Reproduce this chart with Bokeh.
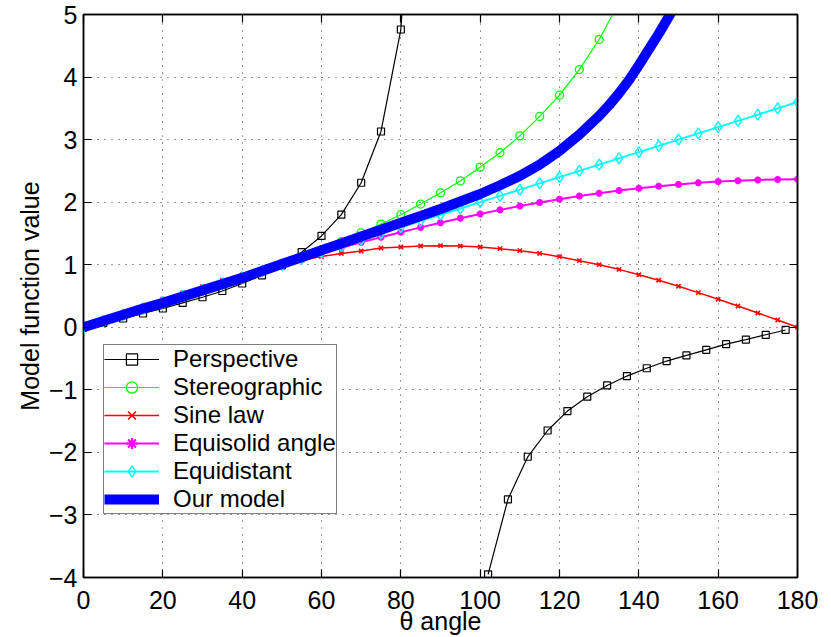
from bokeh.plotting import figure
from bokeh.models import Range1d, LinearAxis, Legend, LegendItem, FixedTicker
from bokeh.embed import file_html
from bokeh.resources import INLINE

# ---------------- data ----------------
x_ticks = [0, 20, 40, 60, 80, 100, 120, 140, 160, 180]
y_ticks = [-4, -3, -2, -1, 0, 1, 2, 3, 4, 5]

theta = [0, 5, 10, 15, 20, 25, 30, 35, 40, 45, 50, 55, 60, 65, 70, 75, 80, 85, 90,
         95, 100, 105, 110, 115, 120, 125, 130, 135, 140, 145, 150, 155, 160, 165,
         170, 175, 180]

theta_persp_a = [0, 5, 10, 15, 20, 25, 30, 35, 40, 45, 50, 55, 60, 65, 70, 75, 80, 85]
persp_a = [0.0, 0.07, 0.14, 0.22, 0.30, 0.39, 0.48, 0.58, 0.70, 0.83, 0.99, 1.20,
           1.46, 1.80, 2.31, 3.13, 4.76, 9.5]
theta_persp_b = [102, 107, 112, 117, 122, 127, 132, 137, 142, 147, 152, 157, 162,
                 167, 172, 177]
persp_b = [-3.95, -2.75, -2.07, -1.65, -1.34, -1.11, -0.93, -0.78, -0.655, -0.54,
           -0.45, -0.36, -0.27, -0.197, -0.12, -0.043]

theta_stereo = [0, 5, 10, 15, 20, 25, 30, 35, 40, 45, 50, 55, 60, 65, 70, 75, 80, 85,
                90, 95, 100, 105, 110, 115, 120, 125, 130, 135]
stereo = [0.0, 0.09, 0.19, 0.28, 0.38, 0.48, 0.58, 0.68, 0.78, 0.89, 1.00, 1.12, 1.24,
          1.37, 1.51, 1.65, 1.80, 1.97, 2.15, 2.34, 2.56, 2.79, 3.06, 3.37, 3.71, 4.12,
          4.60, 5.19]

sine = [0.0, 0.11, 0.23, 0.34, 0.45, 0.55, 0.65, 0.75, 0.84, 0.92, 1.00, 1.07, 1.13,
        1.18, 1.22, 1.267, 1.283, 1.299, 1.305, 1.299, 1.283, 1.257, 1.225, 1.182,
        1.129, 1.065, 1.001, 0.926, 0.841, 0.751, 0.655, 0.554, 0.447, 0.34, 0.229,
        0.117, 0.0]

equisolid = [0.0, 0.103, 0.206, 0.309, 0.411, 0.512, 0.612, 0.711, 0.809, 0.905,
             0.999, 1.092, 1.183, 1.271, 1.357, 1.44, 1.52, 1.597, 1.672, 1.744, 1.812,
             1.877, 1.937, 1.994, 2.048, 2.097, 2.143, 2.185, 2.222, 2.255, 2.284,
             2.309, 2.329, 2.344, 2.356, 2.363, 2.365]

equidistant = [0.0, 0.1, 0.2, 0.3, 0.4, 0.5, 0.6, 0.7, 0.8, 0.9, 1.0, 1.1, 1.2, 1.3,
               1.4, 1.5, 1.6, 1.7, 1.8, 1.9, 2.0, 2.1, 2.2, 2.3, 2.4, 2.5, 2.6, 2.7,
               2.8, 2.9, 3.0, 3.1, 3.2, 3.3, 3.4, 3.5, 3.6]

theta_model = [0, 5, 10, 15, 20, 25, 30, 35, 40, 45, 50, 55, 60, 65, 70, 75, 80, 85,
               90, 95, 100, 105, 110, 115, 120, 125, 130, 132.5, 135, 137.5, 140,
               142.5, 145, 147.5, 150]
model = [0.0, 0.10, 0.20, 0.30, 0.39, 0.49, 0.59, 0.69, 0.79, 0.90, 1.01, 1.12, 1.23,
         1.34, 1.45, 1.56, 1.67, 1.78, 1.89, 2.01, 2.13, 2.27, 2.42, 2.60, 2.82, 3.08,
         3.38, 3.55, 3.74, 3.95, 4.19, 4.44, 4.69, 4.96, 5.25]

labels = ["Perspective", "Stereographic", "Sine law", "Equisolid angle",
          "Equidistant", "Our model"]
x_title = "\u03b8 angle"
y_title = "Model function value"

# ---------------- figure ----------------
FONT = "Liberation Sans"

p = figure(width=831, height=637, output_backend="svg", toolbar_location=None,
           x_range=Range1d(0, 180), y_range=Range1d(-4, 5),
           min_border_left=83, min_border_right=34, min_border_top=14,
           min_border_bottom=60)
p.background_fill_color = "white"
p.border_fill_color = "white"
p.outline_line_color = "black"
p.outline_line_width = 1.5

# lines + markers
r_pa = p.line(theta_persp_a, persp_a, line_color="black", line_width=1.2)
s_pa = p.scatter(theta_persp_a, persp_a, marker="square", size=7, fill_color=None,
                 line_color="black", line_width=1.2)
r_pb = p.line(theta_persp_b, persp_b, line_color="black", line_width=1.2)
s_pb = p.scatter(theta_persp_b, persp_b, marker="square", size=7, fill_color=None,
                 line_color="black", line_width=1.2)

r_st = p.line(theta_stereo, stereo, line_color="#00ff00", line_width=1.2)
s_st = p.scatter(theta_stereo, stereo, marker="circle", size=8, fill_color=None,
                 line_color="#00ff00", line_width=1.3)

r_si = p.line(theta, sine, line_color="#ff0000", line_width=1.5)
s_si = p.scatter(theta, sine, marker="x", size=6, line_color="#ff0000", line_width=1.6)

r_es = p.line(theta, equisolid, line_color="#ff00ff", line_width=2)
s_es = p.scatter(theta, equisolid, marker="asterisk", size=7, line_color="#ff00ff",
                 line_width=2.2)

r_ed = p.line(theta, equidistant, line_color="#00ffff", line_width=2)
s_ed = p.scatter(theta, equidistant, marker="diamond", size=11, fill_color=None,
                 line_color="#00ffff", line_width=1.5)

r_m = p.line(theta_model, model, line_color="#0000ff", line_width=10,
             line_join="round")

# axes styling
for ax in (p.xaxis[0], p.yaxis[0]):
    ax.major_tick_in = 8
    ax.major_tick_out = 0
    ax.minor_tick_line_color = None
    ax.axis_line_color = "black"
    ax.axis_line_width = 1.5
    ax.major_tick_line_color = "black"
    ax.major_tick_line_width = 1.2
    ax.major_label_text_font = FONT
    ax.major_label_text_font_size = "25px"
    ax.major_label_text_color = "black"
    ax.axis_label_text_font = FONT
    ax.axis_label_text_font_size = "25px"
    ax.axis_label_text_font_style = "normal"
    ax.axis_label_text_color = "black"

p.xaxis[0].ticker = FixedTicker(ticks=x_ticks)
p.yaxis[0].ticker = FixedTicker(ticks=y_ticks)
p.yaxis[0].major_label_overrides = {t: (str(t).replace("-", "\u2212")) for t in y_ticks}
p.xaxis[0].axis_label = x_title
p.yaxis[0].axis_label = y_title
p.xaxis[0].major_label_standoff = 13
p.xaxis[0].axis_label_standoff = -5
p.yaxis[0].major_label_standoff = 6
p.yaxis[0].axis_label_standoff = 2

# box ticks on right and top (no labels)
for loc in ("right", "above"):
    tks = y_ticks if loc == "right" else x_ticks
    ax = LinearAxis(ticker=FixedTicker(ticks=tks))
    ax.major_tick_in = 8
    ax.major_tick_out = 0
    ax.minor_tick_line_color = None
    ax.axis_line_color = "black"
    ax.axis_line_width = 1.5
    ax.major_tick_line_color = "black"
    ax.major_tick_line_width = 1.2
    ax.major_label_overrides = {t: "" for t in tks}
    ax.major_label_text_font_size = "10px"
    ax.major_label_standoff = 0
    p.add_layout(ax, loc)

p.grid.grid_line_color = "#333333"
p.grid.grid_line_dash = "1 6"
p.grid.grid_line_width = 1
p.xgrid.ticker = FixedTicker(ticks=x_ticks)
p.ygrid.ticker = FixedTicker(ticks=y_ticks)

legend = Legend(items=[
    LegendItem(label=labels[0], renderers=[r_pa, s_pa]),
    LegendItem(label=labels[1], renderers=[r_st, s_st]),
    LegendItem(label=labels[2], renderers=[r_si, s_si]),
    LegendItem(label=labels[3], renderers=[r_es, s_es]),
    LegendItem(label=labels[4], renderers=[r_ed, s_ed]),
    LegendItem(label=labels[5], renderers=[r_m]),
], location=(20, 63))
legend.label_text_font = FONT
legend.label_text_font_size = "24px"
legend.label_text_color = "black"
legend.label_height = 28
legend.glyph_height = 28
legend.glyph_width = 55
legend.label_standoff = 14
legend.spacing = 0
legend.padding = 0
legend.margin = 0
legend.border_line_color = "black"
legend.border_line_width = 1.5
legend.background_fill_color = "white"
legend.background_fill_alpha = 1.0
p.add_layout(legend, "center")

open("out.html", "w").write(file_html(p, INLINE))
